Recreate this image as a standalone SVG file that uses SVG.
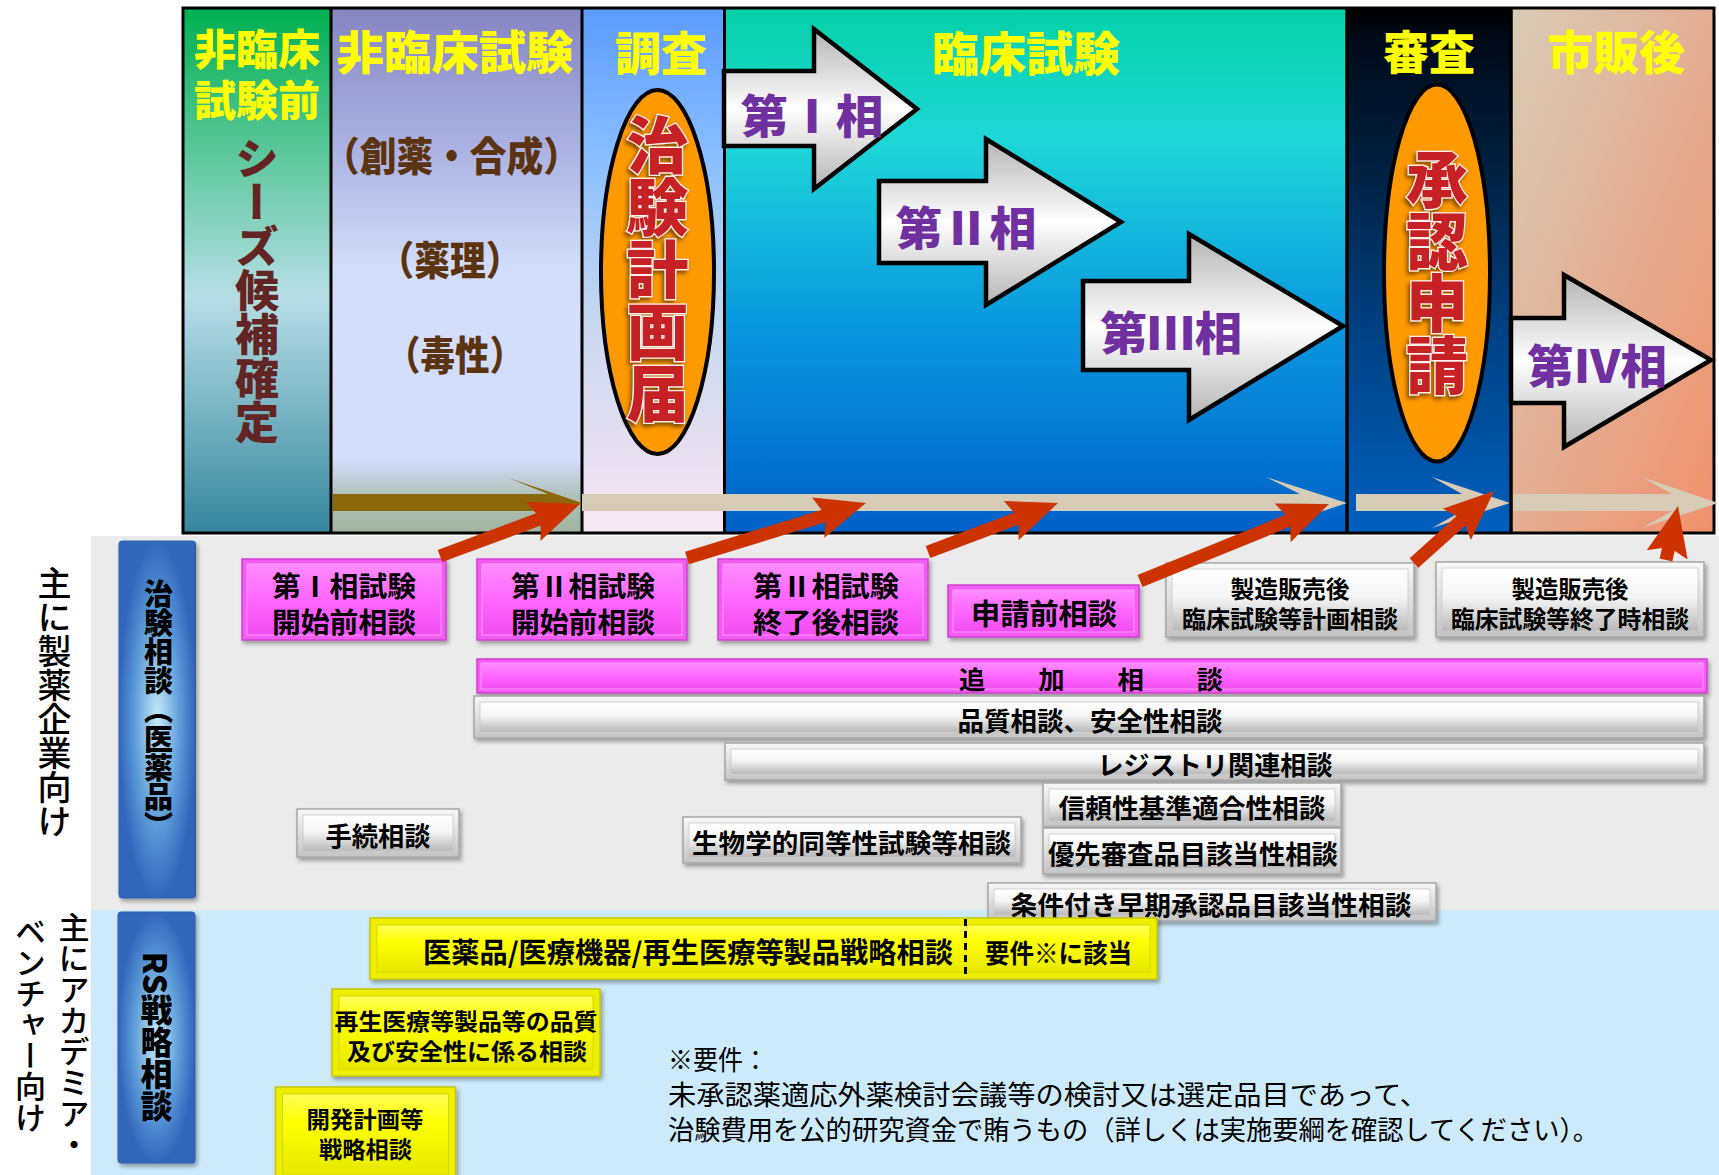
<svg xmlns="http://www.w3.org/2000/svg" width="1719" height="1175" viewBox="0 0 1719 1175">
<defs>
<linearGradient id="c1" x1="0" y1="0" x2="0" y2="1"><stop offset="0" stop-color="#00B050"/><stop offset="0.55" stop-color="#B6DEE6"/><stop offset="1" stop-color="#35869E"/></linearGradient>
<linearGradient id="c2" x1="0" y1="0" x2="0" y2="1"><stop offset="0" stop-color="#8585C2"/><stop offset="0.3" stop-color="#B0B8E6"/><stop offset="0.5" stop-color="#D3DEFB"/><stop offset="0.86" stop-color="#D3DEFB"/><stop offset="0.93" stop-color="#AFC0B8"/><stop offset="1" stop-color="#A0B4A0"/></linearGradient>
<linearGradient id="c3" x1="0" y1="0" x2="0" y2="1"><stop offset="0" stop-color="#5B9BFF"/><stop offset="0.3" stop-color="#8CC0FF"/><stop offset="0.6" stop-color="#C8D8F0"/><stop offset="0.85" stop-color="#E6DFF0"/><stop offset="1" stop-color="#F8E8F4"/></linearGradient>
<linearGradient id="c4" x1="0" y1="0" x2="0" y2="1"><stop offset="0" stop-color="#04D0A8"/><stop offset="0.25" stop-color="#1ED8D8"/><stop offset="0.6" stop-color="#0A98E0"/><stop offset="1" stop-color="#0060C8"/></linearGradient>
<linearGradient id="c5" x1="0" y1="0" x2="0" y2="1"><stop offset="0" stop-color="#000000"/><stop offset="0.06" stop-color="#000A18"/><stop offset="0.3" stop-color="#002040"/><stop offset="0.6" stop-color="#004080"/><stop offset="1" stop-color="#0060C0"/></linearGradient>
<linearGradient id="c6" x1="0" y1="0" x2="1" y2="1"><stop offset="0" stop-color="#D8CCB8"/><stop offset="1" stop-color="#F0906C"/></linearGradient>
<linearGradient id="arrG" x1="0" y1="0" x2="0" y2="1"><stop offset="0" stop-color="#B4B4B4"/><stop offset="0.5" stop-color="#FFFFFF"/><stop offset="1" stop-color="#B4B4B4"/></linearGradient>
<linearGradient id="pinkG" x1="0" y1="0" x2="0" y2="1"><stop offset="0" stop-color="#FF8CFF"/><stop offset="0.5" stop-color="#FF66FF"/><stop offset="1" stop-color="#F24DF2"/></linearGradient>
<linearGradient id="grayO" x1="0" y1="0" x2="0" y2="1"><stop offset="0" stop-color="#F8F8F8"/><stop offset="1" stop-color="#C4C4C4"/></linearGradient>
<linearGradient id="grayI" x1="0" y1="0" x2="0" y2="1"><stop offset="0" stop-color="#FFFFFF"/><stop offset="0.45" stop-color="#F6F6F6"/><stop offset="1" stop-color="#B8B8B8"/></linearGradient>
<linearGradient id="yelI" x1="0" y1="0" x2="0" y2="1"><stop offset="0" stop-color="#FFFF5C"/><stop offset="0.35" stop-color="#FFFF00"/><stop offset="1" stop-color="#E8E800"/></linearGradient>
<radialGradient id="blueG" cx="0.5" cy="0.5" r="0.5"><stop offset="0" stop-color="#C4EAF8"/><stop offset="0.6" stop-color="#5B9BD8"/><stop offset="1" stop-color="#3366BB"/></radialGradient>
<filter id="sh" x="-10%" y="-10%" width="130%" height="130%"><feDropShadow dx="2" dy="3" stdDeviation="2" flood-color="#000" flood-opacity="0.35"/></filter>
<filter id="tsh" x="-20%" y="-10%" width="140%" height="120%"><feDropShadow dx="-2" dy="3" stdDeviation="2" flood-color="#000" flood-opacity="0.5"/></filter>
<marker id="redHead" markerUnits="userSpaceOnUse" viewBox="0 0 50 50" markerWidth="50" markerHeight="50" refX="20" refY="25" orient="auto"><path d="M0,4 L50,25 L0,46 L8,25 Z" fill="#CC3300"/></marker>
<style>
text{font-family:"Noto Sans CJK JP","Noto Sans CJK SC",sans-serif;dominant-baseline:central}
.hd{fill:#FFFF00;font-weight:900;text-anchor:middle}
.vt{writing-mode:vertical-rl;text-anchor:middle}
.br{fill:#5C3310;font-weight:900;text-anchor:middle;font-size:40px}
.ph{fill:#7030A0;font-weight:900;text-anchor:middle;font-size:46px}
.red{fill:#C62128;stroke:#FFF0F0;stroke-width:2.5px;paint-order:stroke;font-weight:900;font-size:62px}
.lbl{fill:#000;font-weight:500}
.bb{fill:#000;font-weight:900}
.bt{fill:#000;font-weight:700;text-anchor:middle}
.nt{fill:#000;font-weight:400;font-size:27px}
.pO{fill:#F25CF2;stroke:#D040D0;stroke-width:1.5}
.pI{fill:url(#pinkG);stroke:#FF99FF;stroke-width:1}
.gO{fill:url(#grayO);stroke:#A6A6A6;stroke-width:1.5}
.gI{fill:url(#grayI);stroke:#C8C8C8;stroke-width:0.8}
.yO{fill:#EEEE00;stroke:#C8C800;stroke-width:1.5}
.yI{fill:url(#yelI);stroke:#D8D800;stroke-width:1}
.pa{fill:url(#arrG);stroke:#000;stroke-width:4.5;stroke-linejoin:miter}
.ra{fill:none;stroke:#CC3300;stroke-width:13;marker-end:url(#redHead)}
</style>
</defs>

<!-- background areas -->
<rect x="91" y="536" width="1628" height="374" fill="#EBEBEB"/>
<rect x="91" y="910" width="1628" height="265" fill="#CDEAFB"/>

<!-- top phase panel -->
<g id="col-prenonclinical">
<rect x="183" y="8" width="148" height="525" fill="url(#c1)"/>
<text class="hd" x="257" y="46" font-size="42">非臨床</text>
<text class="hd" x="257" y="97" font-size="42">試験前</text>
<text class="vt" x="257" y="290" font-size="44" fill="#632523" font-weight="900">シーズ候補確定</text>
</g>
<g id="col-nonclinical">
<rect x="331" y="8" width="251" height="525" fill="url(#c2)"/>
<text class="hd" x="455" y="49" font-size="46" textLength="237" lengthAdjust="spacingAndGlyphs">非臨床試験</text>
<text class="br" x="451.5" y="153.5" textLength="257" lengthAdjust="spacingAndGlyphs">（創薬・合成）</text>
<text class="br" x="450" y="257.5" textLength="143" lengthAdjust="spacingAndGlyphs">（薬理）</text>
<text class="br" x="455" y="352.5" textLength="138" lengthAdjust="spacingAndGlyphs">（毒性）</text>
</g>
<g id="col-survey">
<rect x="582" y="8" width="142.5" height="525" fill="url(#c3)"/>
<text class="hd" x="661" y="50" font-size="46">調査</text>
<ellipse cx="657.5" cy="272" rx="56.5" ry="182" fill="#FF9900" stroke="#000" stroke-width="4"/>
<text class="vt red" x="657.5" y="269" filter="url(#tsh)">治験計画届</text>
</g>
<g id="col-clinical">
<rect x="724.5" y="8" width="622.5" height="525" fill="url(#c4)"/>
<text class="hd" x="1026" y="50" font-size="47">臨床試験</text>
</g>
<g id="col-review">
<rect x="1347" y="8" width="164" height="525" fill="url(#c5)"/>
<text class="hd" x="1429" y="49" font-size="46">審査</text>
<ellipse cx="1437" cy="273" rx="53" ry="188.5" fill="#FF9900" stroke="#000" stroke-width="4"/>
<text class="vt red" x="1437" y="272.5" filter="url(#tsh)">承認申請</text>
</g>
<g id="col-postmarket">
<rect x="1511" y="8" width="203" height="525" fill="url(#c6)"/>
<text class="hd" x="1616" y="49" font-size="46">市販後</text>
</g>

<g id="phase1">
<polygon class="pa" points="724,71 814,71 814,29 917,109 814,189 814,146 724,146"/>
<text class="ph" x="812" y="113" textLength="143" lengthAdjust="spacingAndGlyphs">第Ⅰ相</text>
</g>
<g id="phase2">
<polygon class="pa" points="879,181 986,181 986,139 1121,222 986,305 986,263 879,263"/>
<text class="ph" x="966" y="225" textLength="141" lengthAdjust="spacingAndGlyphs">第Ⅱ相</text>
</g>
<g id="phase3">
<polygon class="pa" points="1083,281 1189,281 1189,234 1343,326 1189,420 1189,370 1083,370"/>
<text class="ph" x="1171" y="330" textLength="142" lengthAdjust="spacingAndGlyphs">第Ⅲ相</text>
</g>
<g id="phase4">
<polygon class="pa" points="1511,318 1564,318 1564,275 1711,360 1564,447 1564,403 1511,403"/>
<text class="ph" x="1597" y="363" textLength="140" lengthAdjust="spacingAndGlyphs">第Ⅳ相</text>
</g>

<g id="frame" stroke="#000" fill="none">
<line x1="331" y1="8" x2="331" y2="533" stroke-width="3"/>
<line x1="582" y1="8" x2="582" y2="533" stroke-width="3"/>
<line x1="724.5" y1="8" x2="724.5" y2="533" stroke-width="3"/>
<line x1="1347" y1="8" x2="1347" y2="533" stroke-width="3.5"/>
<line x1="1511" y1="8" x2="1511" y2="533" stroke-width="3.5"/>
<rect x="183" y="8" width="1531" height="525" stroke-width="3"/>
</g>

<!-- left labels and category bars -->
<g id="label-industry">
<text class="vt lbl" x="54.5" y="702" font-size="34">主に製薬企業向け</text>
</g>
<g id="label-academia">
<text class="vt lbl" x="74" y="1036" font-size="31">主にアカデミア・</text>
<text class="vt lbl" x="30.5" y="1024" font-size="31">ベンチャー向け</text>
</g>
<g id="bar-chiken">
<rect x="119" y="541" width="76.5" height="357" rx="3" fill="url(#blueG)" stroke="#2F5FA8" stroke-width="1" filter="url(#sh)"/>
<text class="vt bb" x="158.5" y="710" font-size="29">治験相談（医薬品）</text>
</g>
<g id="bar-rs">
<rect x="118" y="912" width="77" height="251" rx="3" fill="url(#blueG)" stroke="#2F5FA8" stroke-width="1" filter="url(#sh)"/>
<text class="vt bb" x="156.5" y="1037" font-size="32">RS戦略相談</text>
</g>

<!-- consultation boxes -->
<g id="c-p1pre">
<rect class="pO" x="242" y="559" width="204" height="81" filter="url(#sh)"/><rect class="pI" x="247" y="564" width="194" height="71"/>
<text class="bt" x="344" y="585" font-size="28" textLength="144" lengthAdjust="spacingAndGlyphs">第Ⅰ相試験</text>
<text class="bt" x="344" y="621" font-size="28" textLength="144" lengthAdjust="spacingAndGlyphs">開始前相談</text>
</g>
<g id="c-p2pre">
<rect class="pO" x="477" y="559" width="210" height="81" filter="url(#sh)"/><rect class="pI" x="482" y="564" width="200" height="71"/>
<text class="bt" x="583" y="585" font-size="28" textLength="144" lengthAdjust="spacingAndGlyphs">第Ⅱ相試験</text>
<text class="bt" x="583" y="621" font-size="28" textLength="144" lengthAdjust="spacingAndGlyphs">開始前相談</text>
</g>
<g id="c-p2end">
<rect class="pO" x="718" y="559" width="210" height="81" filter="url(#sh)"/><rect class="pI" x="723" y="564" width="200" height="71"/>
<text class="bt" x="826" y="585" font-size="28" textLength="146" lengthAdjust="spacingAndGlyphs">第Ⅱ相試験</text>
<text class="bt" x="826" y="621" font-size="28" textLength="146" lengthAdjust="spacingAndGlyphs">終了後相談</text>
</g>
<g id="c-prefile">
<rect class="pO" x="948" y="585" width="191" height="52" filter="url(#sh)"/><rect class="pI" x="953" y="590" width="181" height="42"/>
<text class="bt" x="1044" y="612" font-size="29" textLength="146" lengthAdjust="spacingAndGlyphs">申請前相談</text>
</g>
<g id="c-pmplan">
<rect class="gO" x="1166" y="563" width="248" height="74" filter="url(#sh)"/><rect class="gI" x="1172" y="569" width="236" height="62"/>
<text class="bt" x="1290" y="587" font-size="24" textLength="119" lengthAdjust="spacingAndGlyphs">製造販売後</text>
<text class="bt" x="1290" y="617" font-size="24" textLength="216" lengthAdjust="spacingAndGlyphs">臨床試験等計画相談</text>
</g>
<g id="c-pmend">
<rect class="gO" x="1436" y="562" width="268" height="75" filter="url(#sh)"/><rect class="gI" x="1442" y="568" width="256" height="63"/>
<text class="bt" x="1570" y="587" font-size="24" textLength="117" lengthAdjust="spacingAndGlyphs">製造販売後</text>
<text class="bt" x="1570" y="617" font-size="24" textLength="238" lengthAdjust="spacingAndGlyphs">臨床試験等終了時相談</text>
</g>
<g id="c-additional">
<rect class="pO" x="477" y="659" width="1230" height="34" filter="url(#sh)"/><rect class="pI" x="481" y="663" width="1222" height="26"/>
<text class="bt" x="1091" y="678" font-size="25" textLength="264" lengthAdjust="spacingAndGlyphs">追　　加　　相　　談</text>
</g>
<g id="c-quality">
<rect class="gO" x="474" y="696" width="1230" height="42" filter="url(#sh)"/><rect class="gI" x="480" y="702" width="1218" height="30"/>
<text class="bt" x="1090" y="719" font-size="26" textLength="265" lengthAdjust="spacingAndGlyphs">品質相談、安全性相談</text>
</g>
<g id="c-registry">
<rect class="gO" x="725" y="743" width="979" height="37" filter="url(#sh)"/><rect class="gI" x="731" y="749" width="967" height="25"/>
<text class="bt" x="1215" y="763" font-size="26" textLength="235" lengthAdjust="spacingAndGlyphs">レジストリ関連相談</text>
</g>
<g id="c-reliability">
<rect class="gO" x="1043" y="783" width="298" height="44" filter="url(#sh)"/><rect class="gI" x="1049" y="789" width="286" height="32"/>
<text class="bt" x="1192" y="806" font-size="26" textLength="267" lengthAdjust="spacingAndGlyphs">信頼性基準適合性相談</text>
</g>
<g id="c-priority">
<rect class="gO" x="1043" y="828" width="298" height="46" filter="url(#sh)"/><rect class="gI" x="1049" y="834" width="286" height="34"/>
<text class="bt" x="1193" y="852" font-size="26" textLength="290" lengthAdjust="spacingAndGlyphs">優先審査品目該当性相談</text>
</g>
<g id="c-bioeq">
<rect class="gO" x="683" y="817" width="338" height="46" filter="url(#sh)"/><rect class="gI" x="689" y="823" width="326" height="34"/>
<text class="bt" x="851.5" y="841" font-size="26" textLength="319" lengthAdjust="spacingAndGlyphs">生物学的同等性試験等相談</text>
</g>
<g id="c-conditional">
<rect class="gO" x="988" y="883" width="448" height="38" filter="url(#sh)"/><rect class="gI" x="994" y="889" width="436" height="26"/>
<text class="bt" x="1211" y="903" font-size="26" textLength="401" lengthAdjust="spacingAndGlyphs">条件付き早期承認品目該当性相談</text>
</g>
<g id="c-procedure">
<rect class="gO" x="297" y="809" width="162" height="48" filter="url(#sh)"/><rect class="gI" x="303" y="815" width="150" height="36"/>
<text class="bt" x="378" y="834" font-size="26" textLength="105" lengthAdjust="spacingAndGlyphs">手続相談</text>
</g>

<g id="c-rs-strategy">
<rect class="yO" x="370" y="918" width="787" height="61" filter="url(#sh)"/><rect class="yI" x="377" y="925" width="773" height="47"/>
<line x1="965.5" y1="919" x2="965.5" y2="978" stroke="#000" stroke-width="3" stroke-dasharray="7 5"/>
<text class="bt" x="688" y="951" font-size="28" textLength="530" lengthAdjust="spacingAndGlyphs">医薬品/医療機器/再生医療等製品戦略相談</text>
<text class="bt" x="1058.5" y="951" font-size="26" textLength="147" lengthAdjust="spacingAndGlyphs">要件※に該当</text>
</g>
<g id="c-rs-regen">
<rect class="yO" x="332" y="989" width="268" height="87" filter="url(#sh)"/><rect class="yI" x="339" y="996" width="254" height="73"/>
<text class="bt" x="466" y="1020" font-size="23" textLength="263" lengthAdjust="spacingAndGlyphs">再生医療等製品等の品質</text>
<text class="bt" x="467" y="1050" font-size="23" textLength="240" lengthAdjust="spacingAndGlyphs">及び安全性に係る相談</text>
</g>
<g id="c-rs-dev">
<rect class="yO" x="275.5" y="1087" width="180" height="95" filter="url(#sh)"/><rect class="yI" x="282.5" y="1094" width="166" height="81"/>
<text class="bt" x="365" y="1118" font-size="23" textLength="117" lengthAdjust="spacingAndGlyphs">開発計画等</text>
<text class="bt" x="365.5" y="1148" font-size="23" textLength="93" lengthAdjust="spacingAndGlyphs">戦略相談</text>
</g>

<g id="note">
<text class="nt" x="668" y="1058" textLength="100" lengthAdjust="spacingAndGlyphs">※要件：</text>
<text class="nt" x="668" y="1093" textLength="760" lengthAdjust="spacingAndGlyphs">未承認薬適応外薬検討会議等の検討又は選定品目であって、</text>
<text class="nt" x="668" y="1128" textLength="931" lengthAdjust="spacingAndGlyphs">治験費用を公的研究資金で賄うもの（詳しくは実施要綱を確認してください）。</text>
</g>

<!-- connectors -->
<g id="connectors">
<polygon points="333,494 548,494 506,477 582,503 513,523 548,511 333,511" fill="#8B670A"/>
<polygon points="582,494 1300,494 1266,477 1347,503 1272,528 1300,511 582,511" fill="#D5CBB7"/>
<polygon points="1356,494 1462,494 1432,477 1510,503 1432,528 1462,511 1356,511" fill="#D5CBB7"/>
<polygon points="1513,494 1672,494 1642,477 1718,503 1642,528 1672,511 1513,511" fill="#D5CBB7"/>
<line class="ra" x1="440" y1="556" x2="551.9" y2="514.4"/>
<line class="ra" x1="687" y1="558" x2="837.3" y2="511.8"/>
<line class="ra" x1="928" y1="552" x2="1029.9" y2="513.6"/>
<line class="ra" x1="1140" y1="581" x2="1301.2" y2="515.3"/>
<line class="ra" x1="1414" y1="563" x2="1471.7" y2="511.1"/>
<line class="ra" x1="1666" y1="560" x2="1671.5" y2="535.3"/>
</g>
</svg>
